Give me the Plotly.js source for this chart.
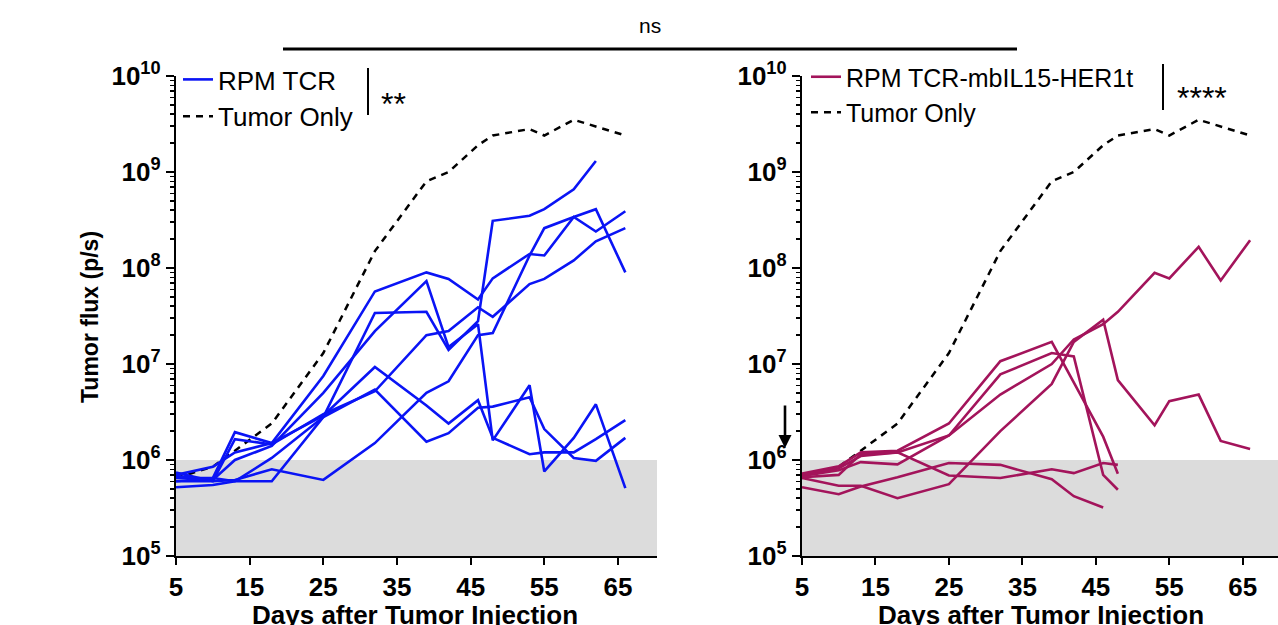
<!DOCTYPE html>
<html>
<head>
<meta charset="utf-8">
<script src="https://cdn.plot.ly/plotly-3.0.1.min.js"></script>
<style>html,body{margin:0;padding:0;background:#fff;}#chart{width:1278px;height:625px;}</style>
</head>
<body>
<div id="chart"></div>
<script>
// ---- data ----
const days = [5, 10, 13, 18, 25, 32, 39, 42, 46, 48, 53, 55, 59, 62, 66];
const tumorOnly = [6.5e5, 8.5e5, 1.25e6, 2.4e6, 1.3e7, 1.5e8, 8.0e8, 1.0e9, 1.9e9, 2.4e9, 2.8e9, 2.4e9, 3.5e9, 3.0e9, 2.4e9];

// RPM TCR (left panel), one array per mouse
const tcrMouse1 = [6.5e5, 6.5e5, 6.0e5, 6.0e5, 2.8e6, 3.4e7, 3.5e7, 1.4e7, 2.8e7, 3.1e8, 3.5e8, 4.1e8, 6.6e8, 1.3e9];
const tcrMouse2 = [7.4e5, 6.0e5, 6.2e5, 8.0e5, 6.2e5, 1.5e6, 5.0e6, 6.6e6, 2.0e7, 2.1e7, 1.35e8, 2.6e8, 3.4e8, 4.1e8, 9.0e7];
const tcrMouse3 = [7.0e5, 8.5e5, 1.2e6, 1.5e6, 7.5e6, 5.7e7, 9.0e7, 7.7e7, 4.7e7, 7.8e7, 1.4e8, 1.35e8, 3.4e8, 2.4e8, 3.9e8];
const tcrMouse4 = [6.0e5, 6.0e5, 1.65e6, 1.45e6, 3.0e6, 5.2e6, 2.0e7, 2.2e7, 3.9e7, 3.1e7, 6.8e7, 7.7e7, 1.2e8, 1.9e8, 2.6e8];
const tcrMouse5 = [6.8e5, 6.2e5, 1.0e6, 1.4e6, 5.0e6, 2.2e7, 7.3e7, 1.5e7, 2.6e7, 1.6e6, 6.0e6, 7.6e5, 1.7e6, 3.8e6, 5.1e5];
const tcrMouse6 = [6.0e5, 6.5e5, 1.95e6, 1.5e6, 2.9e6, 9.3e6, 3.7e6, 2.4e6, 4.2e6, 1.7e6, 1.15e6, 1.2e6, 1.2e6, 1.65e6, 2.6e6];
const tcrMouse7 = [5.2e5, 5.5e5, 6.0e5, 1.05e6, 2.8e6, 5.4e6, 1.55e6, 1.9e6, 3.5e6, 3.6e6, 4.5e6, 2.1e6, 1.05e6, 9.8e5, 1.7e6];

// RPM TCR-mbIL15-HER1t (right panel)
const il15Mouse1 = [7.2e5, 8.6e5, 1.2e6, 1.25e6, 2.4e6, 1.07e7, 1.7e7, 6.5e6, 1.75e6, 7.2e5];
const il15Mouse2 = [7.0e5, 8.2e5, 1.1e6, 1.2e6, 1.8e6, 7.8e6, 1.3e7, 1.2e7, 7.0e5, 4.9e5];
const il15Mouse3 = [6.8e5, 7.8e5, 9.5e5, 9.0e5, 1.8e6, 4.8e6, 1.0e7, 1.8e7, 2.6e7, 3.5e7, 8.9e7, 7.8e7, 1.66e8, 7.4e7, 1.95e8];
const il15Mouse4 = [6.5e5, 5.4e5, 5.4e5, 4.0e5, 5.6e5, 2.0e6, 6.2e6, 1.7e7, 2.9e7, 6.8e6, 2.3e6, 4.1e6, 4.8e6, 1.58e6, 1.3e6];
const il15Mouse5 = [6.6e5, 7.0e5, 1.15e6, 1.2e6, 6.9e5, 6.5e5, 8.0e5, 7.3e5, 9.3e5, 8.9e5];
const il15Mouse6 = [5.2e5, 4.4e5, 5.3e5, 6.6e5, 9.3e5, 8.9e5, 6.3e5, 4.2e5, 3.2e5];

const xTickVals = [5, 15, 25, 35, 45, 55, 65];
const yTickVals = [1e5, 1e6, 1e7, 1e8, 1e9, 1e10];
const yTickText = ['10<sup>5</sup>', '10<sup>6</sup>', '10<sup>7</sup>', '10<sup>8</sup>', '10<sup>9</sup>', '10<sup>10</sup>'];

const tcrSeries = [tcrMouse1, tcrMouse2, tcrMouse3, tcrMouse4, tcrMouse5, tcrMouse6, tcrMouse7];
const il15Series = [il15Mouse1, il15Mouse2, il15Mouse3, il15Mouse4, il15Mouse5, il15Mouse6];

const BLUE = '#0A14F5';
const CRIMSON = '#A3145B';
const W = 1278, H = 625;
const px = v => v / W;
const py = v => 1 - v / H;

const traces = [];
traces.push({x: days, y: tumorOnly, xaxis: 'x', yaxis: 'y', mode: 'lines', name: 'Tumor Only',
  line: {color: '#000', width: 2.5, dash: '7px,6px'}, legend: 'legend', legendrank: 2});
traces.push({x: days, y: tumorOnly, xaxis: 'x2', yaxis: 'y2', mode: 'lines', name: 'Tumor Only',
  line: {color: '#000', width: 2.5, dash: '7px,6px'}, legend: 'legend2', legendrank: 2});

tcrSeries.forEach((s, i) => traces.push({
  x: days.slice(0, s.length), y: s, xaxis: 'x', yaxis: 'y', mode: 'lines', name: 'RPM TCR',
  line: {color: BLUE, width: 2.6}, showlegend: i === 0, legend: 'legend', legendrank: 1}));
il15Series.forEach((s, i) => traces.push({
  x: days.slice(0, s.length), y: s, xaxis: 'x2', yaxis: 'y2', mode: 'lines', name: 'RPM TCR-mbIL15-HER1t',
  line: {color: CRIMSON, width: 2.6}, showlegend: i === 0, legend: 'legend2', legendrank: 1}));

const FONT = 'Liberation Sans, Arial, sans-serif';
const yDomain = [(H - 556) / H, (H - 76) / H];

function xAxis(domain, range) {
  return {domain: domain, range: range, tickmode: 'array', tickvals: xTickVals,
    showline: true, linecolor: '#000', linewidth: 2.2, ticks: 'outside', ticklen: 7, tickwidth: 2,
    tickcolor: '#000', showgrid: false, zeroline: false, automargin: false,
    tickfont: {family: FONT, size: 26, color: '#000', weight: 'bold'}};
}
function yAxis(anchor) {
  const minorVals = [];
  for (let d = 5; d < 10; d++) for (let k = 2; k < 10; k++) minorVals.push(k * Math.pow(10, d));
  return {domain: yDomain, type: 'log', range: [5, 10], anchor: anchor, tickmode: 'array',
    tickvals: yTickVals, ticktext: yTickText,
    showline: true, linecolor: '#000', linewidth: 2.2, ticks: 'outside', ticklen: 8, tickwidth: 2,
    tickcolor: '#000', showgrid: false, zeroline: false, automargin: false,
    minor: {tickmode: 'array', tickvals: minorVals, ticks: 'outside', ticklen: 4, tickwidth: 1.5, tickcolor: '#000', showgrid: false},
    tickfont: {family: FONT, size: 26, color: '#000', weight: 'bold'}};
}

function note(text, x, y, size, extra) {
  return Object.assign({text: text, xref: 'paper', yref: 'paper', x: px(x), y: py(y),
    xanchor: 'center', yanchor: 'middle', showarrow: false,
    font: {family: FONT, size: size, color: '#000'}}, extra || {});
}

const layout = {
  width: W, height: H, margin: {l: 0, r: 0, t: 0, b: 0},
  paper_bgcolor: '#fff', plot_bgcolor: 'rgba(0,0,0,0)', showlegend: true,
  xaxis: Object.assign(xAxis([px(176), px(657)], [5, 70.3]), {anchor: 'y'}),
  yaxis: yAxis('x'),
  xaxis2: Object.assign(xAxis([px(802), 1], [5, 69.8]), {anchor: 'y2'}),
  yaxis2: yAxis('x2'),
  legend: {x: px(178), y: py(56), xanchor: 'left', yanchor: 'top', bgcolor: 'rgba(0,0,0,0)',
    font: {family: FONT, size: 26, color: '#000'}, itemwidth: 30, tracegroupgap: 0, traceorder: 'normal'},
  legend2: {x: px(806), y: py(54), xanchor: 'left', yanchor: 'top', bgcolor: 'rgba(0,0,0,0)',
    font: {family: FONT, size: 25, color: '#000'}, itemwidth: 30, tracegroupgap: 0, traceorder: 'normal'},
  shapes: [
    {type: 'rect', xref: 'x domain', yref: 'y domain', x0: 0, x1: 1, y0: 0, y1: 0.2,
      fillcolor: '#DCDCDC', line: {width: 0}, layer: 'below'},
    {type: 'rect', xref: 'x2 domain', yref: 'y2 domain', x0: 0, x1: 1, y0: 0, y1: 0.2,
      fillcolor: '#DCDCDC', line: {width: 0}, layer: 'below'},
    {type: 'line', xref: 'paper', yref: 'paper', x0: px(283), x1: px(1017), y0: py(49), y1: py(49),
      line: {color: '#000', width: 3}},
    {type: 'line', xref: 'paper', yref: 'paper', x0: px(368), x1: px(368), y0: py(68), y1: py(115),
      line: {color: '#000', width: 2}},
    {type: 'line', xref: 'paper', yref: 'paper', x0: px(1163), x1: px(1163), y0: py(64), y1: py(110),
      line: {color: '#000', width: 2}}
  ],
  annotations: [
    note('ns', 650, 25, 21),
    note('**', 393, 104, 32),
    note('****', 1202, 98, 32),
    note('Tumor flux (p/s)', 90, 317, 23, {textangle: -90, font: {family: FONT, size: 23, color: '#000', weight: 'bold'}}),
    note('Days after Tumor Injection', 415, 615, 26, {font: {family: FONT, size: 26, color: '#000', weight: 'bold'}}),
    note('Days after Tumor Injection', 1041, 615, 26, {font: {family: FONT, size: 26, color: '#000', weight: 'bold'}}),
    {text: '', xref: 'paper', yref: 'paper', x: px(785), y: py(448), ax: 0, ay: -44,
      showarrow: true, arrowhead: 2, arrowsize: 1, arrowwidth: 2.6, arrowcolor: '#000'}
  ]
};

Plotly.newPlot('chart', traces, layout, {staticPlot: true, displayModeBar: false});
</script>
</body>
</html>
